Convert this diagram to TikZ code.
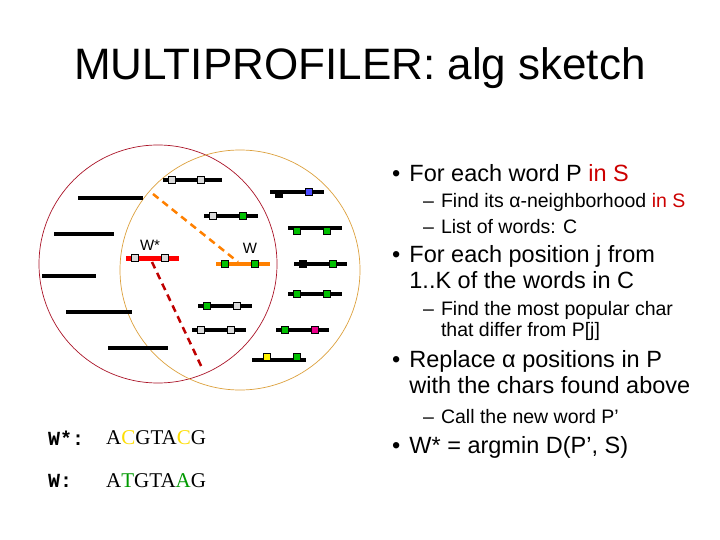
\documentclass[tikz,border=0pt]{standalone}
\usepackage{fontspec}
\setmainfont{Liberation Sans}
\setmonofont{Liberation Mono}
\newfontfamily\serifseq{Liberation Serif}
\begin{document}
\begin{tikzpicture}[x=1pt,y=-1pt,
  seq/.style={line width=4pt},
  sq/.style={draw=black,line width=0.6pt,minimum size=7pt,inner sep=0pt},
  txt/.style={anchor=west,inner sep=0pt,align=left},
  bul/.style={txt,font=\fontsize{23.5}{26}\selectfont},
  sub/.style={txt,font=\fontsize{19.5}{21}\selectfont}]
\useasboundingbox (0,0) rectangle (720,540);
\node (title) at (360,68) {\fontsize{44}{48}\selectfont MULTIPROFILER: alg sketch};
\draw[color={rgb,255:red,170;green,20;blue,40},line width=0.7pt] (158,264) circle (119);
\draw[color={rgb,255:red,220;green,160;blue,60},line width=0.7pt] (240,270) circle (120);
% left lines
\foreach \a/\b/\y in {78/143/198,54/114/234,42/96/276,66/132/312,108/168/348}
  \draw[seq] (\a,\y) -- (\b,\y);
% right lines with squares
\def\gr{black!15}
\def\gn{green!75!black}
\draw[seq] (163,180)--(222,180); \node[sq,fill=\gr] (s1) at (172,180){}; \node[sq,fill=\gr] (s2) at (201,180){};
\draw[seq] (270,192)--(324,192); \node[sq,fill=black,draw=black] (s3) at (279,194){}; \node[sq,fill=blue!70] (s4) at (309,192){};
\draw[seq] (204,216)--(258,216); \node[sq,fill=\gr] at (213,216){}; \node[sq,fill=\gn] at (243,216){};
\draw[seq] (288,228)--(342,228); \node[sq,fill=\gn] at (297,231){}; \node[sq,fill=\gn] at (327,231){};
\draw[seq] (294,264)--(347,264); \node[sq,fill=black] at (303,264){}; \node[sq,fill=\gn] at (333,264){};
\draw[seq] (288,294)--(342,294); \node[sq,fill=\gn] at (297,294){}; \node[sq,fill=\gn] at (327,294){};
\draw[seq] (198,306)--(252,306); \node[sq,fill=\gn] at (207,306){}; \node[sq,fill=\gr] at (237,306){};
\draw[seq] (192,330)--(246,330); \node[sq,fill=\gr] at (201,330){}; \node[sq,fill=\gr] at (231,330){};
\draw[seq] (276,330)--(329,330); \node[sq,fill=\gn] at (285,330){}; \node[sq,fill=magenta] at (315,330){};
\draw[seq] (252,360)--(306,360); \node[sq,fill=yellow] at (267,357){}; \node[sq,fill=\gn] at (297,357){};
% W* and W
\draw[red,line width=5pt] (126,258)--(179,258); \node[sq,fill=\gr] (ws1) at (135,258){}; \node[sq,fill=\gr] (ws2) at (165,258){};
\draw[orange,line width=4pt] (216,264)--(270,264); \node[sq,fill=\gn] (w1) at (225,264){}; \node[sq,fill=\gn] (w2) at (255,264){};
\node (lws) at (150,245) {\fontsize{15}{16}\selectfont W*};
\node (lw) at (250,248) {\fontsize{15}{16}\selectfont W};
\coordinate (d1) at (153,194); \coordinate (d2) at (238,262);
\coordinate (d3) at (152,262); \coordinate (d4) at (203,370);
\draw[orange,line width=2.5pt,dash pattern=on 7pt off 5pt] (d1)--(d2);
\draw[red!75!black,line width=2.5pt,dash pattern=on 7pt off 5pt] (d3)--(d4);
% bottom sequences
\node[txt,font=\ttfamily\bfseries\fontsize{20}{22}\selectfont] (sw1) at (48,438) {W*:};
\node[txt,font=\serifseq\fontsize{21}{22}\selectfont] (q1) at (106,438) {A\textcolor{yellow!80!orange}{C}GTA\textcolor{yellow!80!orange}{C}G};
\node[txt,font=\ttfamily\bfseries\fontsize{20}{22}\selectfont] (sw2) at (48,481) {W:};
\node[txt,font=\serifseq\fontsize{21}{22}\selectfont] (q2) at (106,481) {A\textcolor{green!60!black}{T}GTA\textcolor{green!60!black}{A}G};
% bullets
\node[bul] (b1) at (392,173) {•\hspace{9pt}For each word P \textcolor{red!80!black}{in S}};
\node[sub] (c1) at (423,202) {–\hspace{7pt}Find its α-neighborhood \textcolor{red!80!black}{in S}};
\node[sub] (c2) at (423,227) {–\hspace{7pt}List of words: C};
\node[bul] (b2) at (392,270) {•\hspace{9pt}\begin{tabular}[t]{@{}l@{}}For each position j from\\1..K of the words in C\end{tabular}};
\node[sub] (c3) at (423,322) {–\hspace{7pt}\begin{tabular}[t]{@{}l@{}}Find the most popular char\\that differ from P[j]\end{tabular}};
\node[bul] (b3) at (392,375) {•\hspace{9pt}\begin{tabular}[t]{@{}l@{}}Replace α positions in P\\with the chars found above\end{tabular}};
\node[sub] (c4) at (423,417) {–\hspace{7pt}Call the new word P’};
\node[bul] (b4) at (392,447) {•\hspace{9pt}W* = argmin D(P’, S)};
\end{tikzpicture}
\end{document}
